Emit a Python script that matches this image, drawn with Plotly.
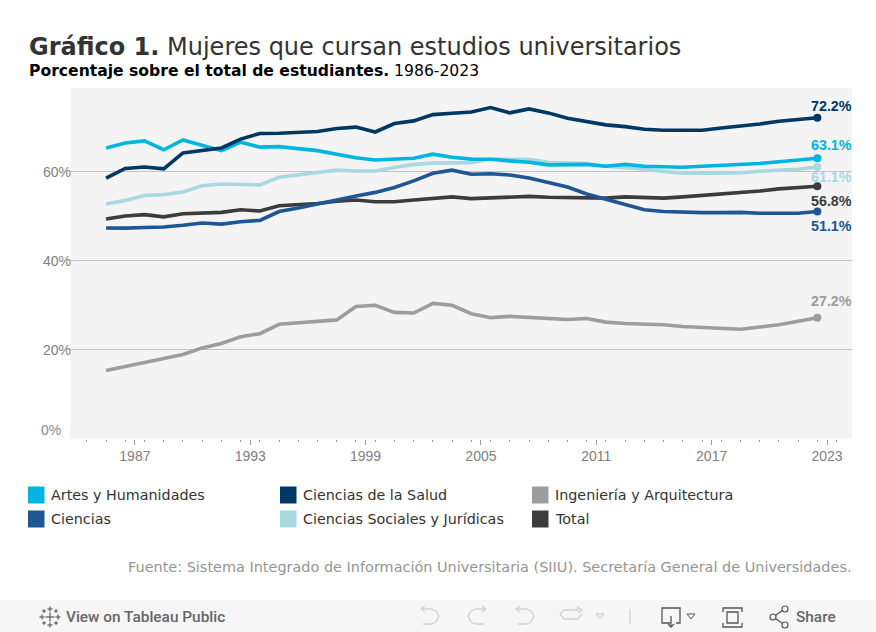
import plotly.graph_objects as go

W, H = 876, 632

years = list(range(1986, 2024))
artes = [65.4,66.5,67.0,65.0,67.2,66.0,64.8,66.7,65.6,65.7,65.3,64.8,
         64.0,63.2,62.7,63.0,63.1,64.0,63.3,62.9,62.85,62.5,62.2,61.6,
         61.7,61.7,61.3,61.7,61.3,61.1,61.05,61.3,61.5,61.6,61.9,62.3,62.7,63.1]
salud = [58.6,60.8,61.1,60.7,64.3,64.8,65.4,67.4,68.65,68.7,68.8,69.1,
         69.8,70.1,69.0,70.9,71.5,72.9,73.2,73.5,74.5,73.3,74.2,73.3,
         72.1,71.3,70.6,70.2,69.6,69.4,69.3,69.4,69.9,70.3,70.8,71.4,71.8,72.2]
ingenieria = [15.3,16.2,16.9,17.8,18.9,20.4,21.4,22.9,23.6,25.7,26.0,26.3,
              26.7,29.7,30.0,28.4,28.25,30.4,30.0,28.1,27.2,27.5,27.2,26.9,
              26.8,27.0,26.2,25.9,25.8,25.6,25.2,25.0,24.8,24.6,25.1,25.6,26.4,27.2]
ciencias = [47.4,47.35,47.5,47.6,48.0,48.5,48.25,48.8,49.1,51.1,51.9,52.8,
            53.9,54.6,55.4,56.5,58.0,59.7,60.4,59.5,59.6,59.3,58.65,57.6,
            56.6,55.05,53.9,52.6,51.5,51.1,50.9,50.85,50.85,50.9,50.7,50.6,50.7,51.1]
sociales = [52.8,53.6,54.7,54.9,55.5,56.9,57.3,57.15,57.1,58.8,59.3,59.9,
            60.4,60.2,60.2,61.0,61.7,62.0,62.0,62.1,62.9,62.9,62.85,62.2,
            62.1,61.9,61.3,61.05,60.6,60.1,59.7,59.7,59.7,59.8,60.15,60.4,60.6,61.1]
total = [49.4,50.1,50.4,49.9,50.6,50.8,50.9,51.5,51.2,52.4,52.6,52.9,
         53.4,53.7,53.3,53.3,53.7,54.1,54.4,54.0,54.2,54.3,54.5,54.3,
         54.2,54.2,54.1,54.4,54.35,54.1,54.4,54.7,55.0,55.2,55.7,56.2,56.4,56.8]

names = ["Artes y Humanidades", "Ciencias de la Salud", "Ingeniería y Arquitectura",
         "Ciencias", "Ciencias Sociales y Jurídicas", "Total"]
colors = ["#00b5e2", "#003865", "#9d9d9d", "#1f5694", "#a8d8e2", "#3c3c3c"]
values = [artes, salud, ingenieria, ciencias, sociales, total]
end_text = ["63.1%", "72.2%", "27.2%", "51.1%", "61.1%", "56.8%"]
end_yshift = [13, 12, 17, -15, -10, -15]
draw_order = [5, 2, 4, 0, 1, 3]

major_years = [1987, 1993, 1999, 2005, 2011, 2017, 2023]
y_ticks = [20, 40, 60]
y_labels = ["20%", "40%", "60%"]


def px(x):
    return x / W


def py(y):
    return 1 - y / H


fig = go.Figure()
for i in draw_order:
    fig.add_trace(go.Scatter(
        x=years, y=values[i], mode="lines", name=names[i],
        line=dict(color=colors[i], width=3.6, shape="linear"),
        hoverinfo="skip", showlegend=False))
for i in draw_order:
    fig.add_trace(go.Scatter(
        x=years[-1:], y=values[i][-1:], mode="markers",
        marker=dict(color=colors[i], size=8),
        hoverinfo="skip", showlegend=False))

annotations = []
for i in range(6):
    annotations.append(dict(
        x=px(852), xref="paper", xanchor="right", borderpad=0, borderwidth=0,
        y=values[i][-1], yref="y", yshift=end_yshift[i], yanchor="middle",
        text=f"<b>{end_text[i]}</b>", showarrow=False,
        font=dict(family="Liberation Sans", size=14.3, color=colors[i])))


def note(x, y, text, size, color, family="DejaVu Sans", anchor="left", weight=None):
    font = dict(family=family, size=size, color=color)
    if weight:
        font["weight"] = weight
    annotations.append(dict(
        x=px(x), y=py(y), xref="paper", yref="paper", xanchor=anchor, yanchor="middle",
        text=text, showarrow=False, align=anchor, borderpad=0, borderwidth=0,
        font=font))


note(29, 47, "<b>Gráfico 1.</b> Mujeres que cursan estudios universitarios", 24, "#333333")
note(29, 71, "<b>Porcentaje sobre el total de estudiantes.</b> 1986-2023", 15.6, "#000000")
note(61, 430, "0%", 14, "#8a8a8a", "Liberation Sans", "right")
note(851.5, 567, "Fuente: Sistema Integrado de Información Universitaria (SIIU). Secretaría General de Universidades.",
     14.45, "#959595", anchor="right")

shapes = []
legend_x = [28, 280, 532]
legend_y = [495, 519]
for k in range(6):
    lx = legend_x[k % 3]
    ly = legend_y[k // 3]
    shapes.append(dict(type="rect", xref="paper", yref="paper", layer="above",
                       x0=px(lx), x1=px(lx + 16.5), y0=py(ly - 8.5), y1=py(ly + 8.5),
                       fillcolor=colors[k], line=dict(width=0)))
    note(lx + 22.5, ly, names[k], 14.3, "#333333")

# toolbar strip
shapes.append(dict(type="rect", xref="paper", yref="paper", layer="below",
                   x0=0, x1=1, y0=0, y1=py(600), fillcolor="#f6f6f6", line=dict(width=0)))
note(66, 617, "View on Tableau Public", 15.4, "#666666", "Roboto", weight=500)
note(836, 617, "Share", 15.4, "#666666", "Roboto", "right", weight=500)


def icon(points, color="#d2d2d2", width=1.3, close=False):
    d = "M" + " L".join(f"{px(a):.5f},{py(b):.5f}" for a, b in points) + (" Z" if close else "")
    shapes.append(dict(type="path", xref="paper", yref="paper", path=d, layer="above",
                       line=dict(color=color, width=width)))


def arc_undo(x0, flip=False, color="#d2d2d2"):
    def f(v):
        return x0 + (18 - v if flip else v)
    icon([(f(0), 609), (f(10), 609), (f(15), 611), (f(18), 616), (f(15), 622), (f(10), 624), (f(2), 624)], color)
    icon([(f(4), 606), (f(0), 609), (f(4), 612)], color)


arc_undo(421)
arc_undo(468, True)
arc_undo(516)
icon([(564, 610), (578, 610), (578, 607), (582, 610), (578, 613)], "#d2d2d2")
icon([(564, 610), (560, 614), (564, 619), (578, 619), (582, 614)], "#d2d2d2")
icon([(596, 614), (604, 614), (600, 619)], "#c8c8c8", 1, True)
icon([(630, 609), (630, 624)], "#c8c8c8", 1)
# download icon
icon([(670, 623), (662, 623), (662, 608), (680, 608), (680, 623), (676, 623)], "#555555", 1.3)
icon([(671, 616), (671, 627)], "#555555", 1.3)
icon([(668, 624), (671, 627), (674, 624)], "#555555", 1.3)
icon([(687, 614), (695, 614), (691, 619)], "#555555", 1, True)
# full screen icon
icon([(723, 612), (723, 608), (742, 608), (742, 612)], "#555555", 1.3)
icon([(723, 623), (723, 627), (742, 627), (742, 623)], "#555555", 1.3)
icon([(727, 612), (738, 612), (738, 623), (727, 623)], "#555555", 1.3, True)
# share icon
for cx, cy in [(785, 609), (785, 625), (773, 617)]:
    shapes.append(dict(type="circle", xref="paper", yref="paper", layer="above",
                       x0=px(cx - 3), x1=px(cx + 3), y0=py(cy + 3), y1=py(cy - 3),
                       line=dict(color="#555555", width=1.2)))
icon([(775.5, 615.5), (782.5, 610.5)], "#555555", 1.2)
icon([(775.5, 618.5), (782.5, 623.5)], "#555555", 1.2)
# Tableau mark
for cx, cy, r in [(50, 617, 4.5), (50, 609, 2.5), (50, 625, 2.5), (42, 617, 2.5), (58, 617, 2.5),
                  (44, 611, 1.8), (56, 611, 1.8), (44, 623, 1.8), (56, 623, 1.8)]:
    icon([(cx - r, cy), (cx + r, cy)], "#666666", 1.3)
    icon([(cx, cy - r), (cx, cy + r)], "#666666", 1.3)

fig.update_layout(
    width=W, height=H, margin=dict(l=0, r=0, t=0, b=0),
    paper_bgcolor="#ffffff", plot_bgcolor="#f4f4f4",
    showlegend=False, annotations=annotations, shapes=shapes,
    xaxis=dict(
        domain=[px(70), px(852)],
        range=[1984.125, 2024.8],
        tickmode="array",
        tickvals=[y + 0.5 for y in major_years],
        ticktext=[str(y) for y in major_years],
        ticks="outside", ticklen=5, tickcolor="#9a9a9a", tickwidth=1,
        minor=dict(tickmode="array", tickvals=list(range(1985, 2025)),
                   ticks="outside", ticklen=2, tickcolor="#9a9a9a", tickwidth=1, showgrid=False),
        showgrid=False, zeroline=False, showline=False,
        tickfont=dict(family="Liberation Sans", size=14, color="#808080"),
    ),
    yaxis=dict(
        domain=[py(438.5), py(88)],
        range=[0, 78.9],
        tickmode="array", tickvals=y_ticks, ticktext=y_labels,
        ticks="", showgrid=True, gridcolor="#c4c4c4", gridwidth=1,
        zeroline=False, showline=False, ticklabelstandoff=-2,
        tickfont=dict(family="Liberation Sans", size=14, color="#808080"),
    ),
)

fig.write_html("out.html", config={"displayModeBar": False},
               post_script="document.body.style.margin='0';document.documentElement.style.overflow='hidden';")
